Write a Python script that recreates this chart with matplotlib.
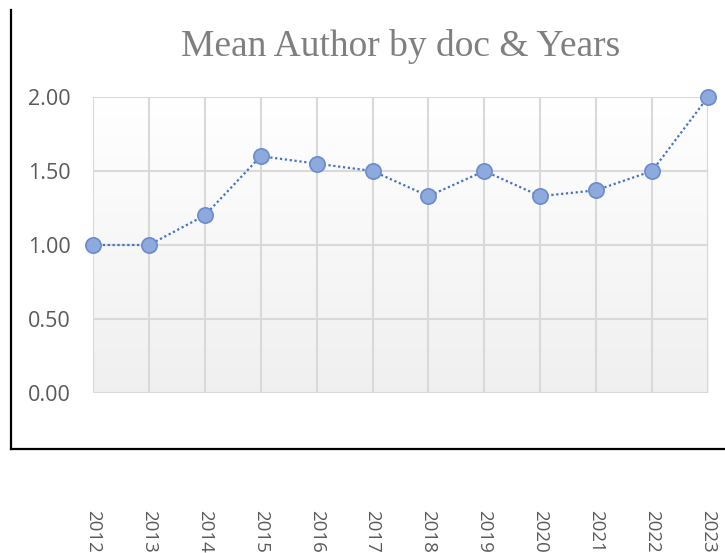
import matplotlib
matplotlib.use("Agg")
import matplotlib.pyplot as plt
import numpy as np
from matplotlib.lines import Line2D

years = [2012, 2013, 2014, 2015, 2016, 2017, 2018, 2019, 2020, 2021, 2022, 2023]
mean_authors = [1.00, 1.00, 1.20, 1.60, 1.55, 1.50, 1.33, 1.50, 1.33, 1.37, 1.50, 2.00]
y_ticks = [0.0, 0.5, 1.0, 1.5, 2.0]
title = "Mean Author by doc & Years"

W, H = 725, 553
fig = plt.figure(figsize=(W / 100, H / 100), dpi=100)
left, right, top, bottom = 93, 708, 97, 393
ax = fig.add_axes([left / W, 1 - bottom / H, (right - left) / W, (bottom - top) / H])

# gradient background
grad = np.linspace(1.0, 0.94, 256).reshape(-1, 1)
ax.imshow(np.dstack([grad, grad, grad]), extent=[0, 1, 0, 1], transform=ax.transAxes,
          aspect="auto", zorder=0, interpolation="bilinear")

ax.set_xlim(years[0], years[-1])
ax.set_ylim(0, 2.0)
ax.set_xticks(years)
ax.set_yticks(y_ticks)
ax.set_yticklabels([f"{v:.2f}" for v in y_ticks])
ax.set_xticklabels([str(y) for y in years], rotation=-90, va="top", ha="center")
ax.grid(True, color="#d9d9d9", linewidth=1.5, zorder=1)
ax.set_axisbelow(True)
for s in ax.spines.values():
    s.set_visible(False)
ax.tick_params(axis="both", length=0, labelcolor="#595959")
ax.tick_params(axis="y", pad=16, labelsize=15.5)
ax.tick_params(axis="x", pad=84, labelsize=13.5)
for lab in ax.get_xticklabels() + ax.get_yticklabels():
    lab.set_fontfamily("Open Sans")

ax.plot(years, mean_authors, linestyle=(0, (1, 1.2)), color="#4472C4", linewidth=1.6,
        marker="o", markersize=11, markerfacecolor="#8EA9DB", markeredgecolor="#6A8BCF",
        markeredgewidth=1.2, clip_on=False, zorder=3)

fig.text((left + right) / 2 / W, 1 - 46 / H, title, ha="center", va="center",
         fontsize=27, color="#7f7f7f", family="Liberation Serif")

# outer chart frame
fig.add_artist(Line2D([10.5 / W, 10.5 / W], [1 - 10 / H, 1 - 449 / H], color="black", linewidth=1.6))
fig.add_artist(Line2D([10.5 / W, 1.0], [1 - 449 / H, 1 - 449 / H], color="black", linewidth=1.6))

fig.savefig("out.png", dpi=100)
